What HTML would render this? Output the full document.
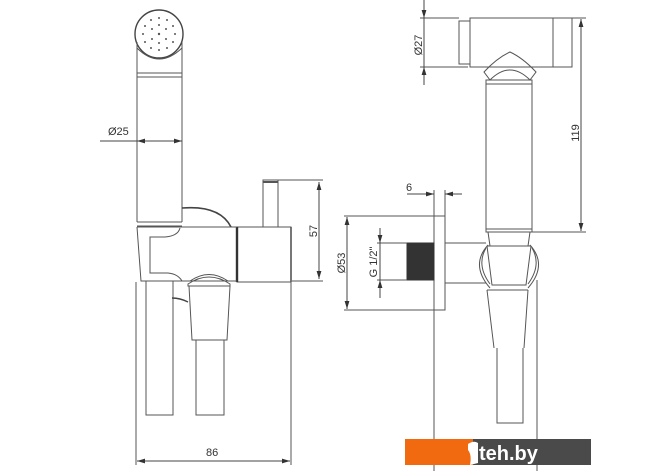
<!DOCTYPE html>
<html><head><meta charset="utf-8"><style>
html,body{margin:0;padding:0;background:#fff;}
svg{display:block;}
text{font-family:"Liberation Sans",sans-serif;fill:#333;font-size:11px;}
</style></head><body>
<svg width="670" height="471" viewBox="0 0 670 471" xmlns="http://www.w3.org/2000/svg">
<defs>
<marker id="a" viewBox="0 0 10 6" refX="10" refY="3" markerWidth="8" markerHeight="5" orient="auto-start-reverse" markerUnits="userSpaceOnUse"><path d="M0,0 L10,3 L0,6 z" fill="#333"/></marker>
</defs>
<g fill="none" stroke="#555" stroke-width="1">
<!-- LEFT VIEW -->
<circle cx="159" cy="34" r="24" stroke-width="1.4" stroke="#444"/>
<path d="M137,42 L137,222 M182,42 L182,222"/>
<path d="M137,48 Q159,70 182,48"/>
<path d="M137,73 H182 M137,77 H182 M137,222 H182 M137,226 H182"/>
<g fill="#555" stroke="none">
<circle cx="159" cy="34" r="1.2"/>
<circle cx="159" cy="18" r="1"/><circle cx="167" cy="20" r="1"/><circle cx="173" cy="26" r="1"/><circle cx="175" cy="34" r="1"/><circle cx="173" cy="42" r="1"/><circle cx="167" cy="48" r="1"/><circle cx="159" cy="50" r="1"/><circle cx="151" cy="48" r="1"/><circle cx="145" cy="42" r="1"/><circle cx="143" cy="34" r="1"/><circle cx="145" cy="26" r="1"/><circle cx="151" cy="20" r="1"/>
<circle cx="159" cy="25" r="1"/><circle cx="166" cy="29" r="1"/><circle cx="166" cy="39" r="1"/><circle cx="159" cy="43" r="1"/><circle cx="152" cy="39" r="1"/><circle cx="152" cy="29" r="1"/>
</g>
<!-- Ø25 -->
<path d="M100,141 H182" stroke="#444" marker-end="url(#a)"/>
<path d="M137,141 H160" stroke="#444" marker-start="url(#a)"/>
<!-- pin -->
<rect x="263" y="180" width="15" height="47"/>
<path d="M263,182 H278" stroke-width="2"/>
<!-- arc -->
<path d="M182,208 Q220,205 231,227" stroke-width="1.6" stroke="#444"/>
<!-- valve body -->
<rect x="237" y="227" width="54" height="55"/>
<path d="M237,227 V282" stroke-width="2.4" stroke="#333"/>
<path d="M291,227 V282" stroke-width="1.6"/>
<!-- holder -->
<path d="M137,227 H237 M137,227 L141,281 H237"/>
<path d="M180,228 Q178,236 165,237 L150,237 L150,273 L168,273 Q178,274 182,281"/>
<path d="M146,281 V415 H173 V281"/>
<!-- nut -->
<path d="M188,284 Q209,270 230,284 L230,286 H188 Z"/>
<path d="M190,281 Q209,268 228,281"/>
<path d="M189,286 L192,340 H227 L230,286"/>
<path d="M172,298 Q180,298 188,302" stroke-width="1.4" stroke="#444"/>
<path d="M196,340 V415 H224 V340"/>
<!-- 57 -->
<path d="M278,180 H323 M292,281 H323"/>
<path d="M319,182 V279" stroke="#444" marker-start="url(#a)" marker-end="url(#a)"/>
<!-- 86 -->
<path d="M136,282 V465 M291,282 V465"/>
<path d="M137,461 H290" stroke="#444" marker-start="url(#a)" marker-end="url(#a)"/>

<!-- RIGHT VIEW -->
<rect x="459" y="21" width="11" height="43"/>
<rect x="470" y="18" width="102" height="49"/>
<path d="M553,18 V67"/>
<path d="M484,72 Q497,58 510,52 Q523,58 536,72 L530,80 Q510,60 490,80 Z"/>
<rect x="486" y="80" width="46" height="152"/>
<path d="M486,84 H532 M486,229 H532"/>
<path d="M488,232 L490,246 M530,232 L528,246 M487,246 H531"/>
<!-- holder -->
<path d="M487,246 L492,285 H526 L531,246"/>
<path d="M488,245 Q470,265 490,288 M530,245 Q548,265 528,288"/>
<path d="M486,248 Q476,265 490,284 M532,248 Q542,265 528,284"/>
<path d="M487,290 L494,348 M528,290 L524,348 M487,290 H528"/>
<path d="M497,348 V423 H523 V348"/>
<!-- pipe, plate, thread -->
<rect x="434" y="216" width="11" height="94"/>
<path d="M445,243 H486 M445,283 H486"/>
<rect x="407" y="243" width="27" height="37" fill="#333" stroke="#333"/>
<!-- Ø27 -->
<path d="M420,18 H459 M420,67 H468"/>
<path d="M424,0 V18" stroke="#444" marker-end="url(#a)"/>
<path d="M424,85 V67" stroke="#444" marker-end="url(#a)"/>
<path d="M424,18 V67" stroke="#444"/>
<!-- 119 -->
<path d="M572,18 H586 M532,232 H586"/>
<path d="M581,19 V231" stroke="#444" marker-start="url(#a)" marker-end="url(#a)"/>
<!-- 6 -->
<path d="M434,190 V216 M445,190 V216"/>
<path d="M407,194 H434" stroke="#444" marker-end="url(#a)"/>
<path d="M462,194 H445" stroke="#444" marker-end="url(#a)"/>
<!-- Ø53 -->
<path d="M344,216 H434 M344,310 H434"/>
<path d="M347,217 V309" stroke="#444" marker-start="url(#a)" marker-end="url(#a)"/>
<!-- G1/2 -->
<path d="M377,243 H407 M377,280 H407"/>
<path d="M380,228 V243" stroke="#444" marker-end="url(#a)"/>
<path d="M380,298 V280" stroke="#444" marker-end="url(#a)"/>
<path d="M380,243 V280" stroke="#444"/>
<!-- extension lines down -->
<path d="M434,310 V471 M537,280 V471"/>
</g>
<!-- labels -->
<text x="108" y="135">Ø25</text>
<text x="206" y="456" font-size="12">86</text>
<text transform="translate(317,231) rotate(-90)" text-anchor="middle">57</text>
<text transform="translate(345,263) rotate(-90)" text-anchor="middle">Ø53</text>
<text transform="translate(377,262) rotate(-90)" text-anchor="middle" font-size="10">G 1/2"</text>
<text transform="translate(422,45) rotate(-90)" text-anchor="middle">Ø27</text>
<text transform="translate(579,133) rotate(-90)" text-anchor="middle">119</text>
<text x="406" y="191">6</text>
<!-- logo -->
<rect x="405" y="439" width="68" height="26" fill="#f26a10"/>
<rect x="473" y="439" width="118" height="26" fill="#4a4a4a"/>
<path d="M468,444 Q474,440 478,443 L478,463 L470,465 Q472,455 468,450 Z" fill="#fff"/>
<text x="479" y="460" style="fill:#fff;font-size:20px;font-weight:bold">teh.by</text>
</svg>
</body></html>
